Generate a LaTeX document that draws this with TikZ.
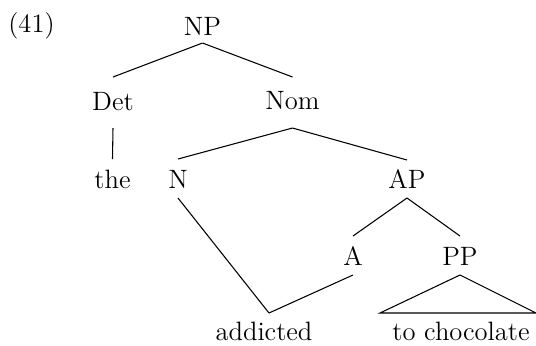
\documentclass[tikz,border=0pt]{standalone}
\usetikzlibrary{calc}
\begin{document}
\begin{tikzpicture}[x=0.422pt,y=-0.422pt,
  lab/.style={anchor=base,inner sep=0pt,font=\fontsize{11.2}{13}\selectfont},
  br/.style={line width=0.45pt}]
\useasboundingbox (0,0) rectangle (536,345);
\node[lab] (ex) at (31.5,32) {(41)};
\node[lab] (NP) at (202.5,35) {NP};
\node[lab] (Det) at (113,110) {Det};
\node[lab] (Nom) at (292.5,109) {Nom};
\node[lab] (the) at (112.5,188) {the};
\node[lab] (N) at (178,188) {N};
\node[lab] (AP) at (407,188) {AP};
\node[lab] (A) at (353,265) {A};
\node[lab] (PP) at (460,265) {PP};
\node[lab] (add) at (264,340) {addicted};
\node[lab] (toc) at (461,340) {to chocolate};
\draw[br] ($(NP.base)+(0,8)$) -- ($(Det.base)+(0,-33)$);
\draw[br] ($(NP.base)+(0,8)$) -- ($(Nom.base)+(0,-32)$);
\draw[br] ($(Det.base)+(0,18)$) -- ($(the.base)+(0,-29)$);
\draw[br] ($(Nom.base)+(0,19)$) -- ($(N.base)+(0,-29)$);
\draw[br] ($(Nom.base)+(0,19)$) -- ($(AP.base)+(0,-28)$);
\draw[br] ($(N.base)+(0,10)$) -- ($(add.base)+(5,-27)$);
\draw[br] ($(A.base)+(0,10)$) -- ($(add.base)+(5,-27)$);
\draw[br] ($(AP.base)+(0,10)$) -- ($(A.base)+(0,-29)$);
\draw[br] ($(AP.base)+(0,10)$) -- ($(PP.base)+(0,-29)$);
\draw[br,line join=miter] ($(PP.base)+(0,10)$) -- ($(toc.base)+(-81,-27)$) -- ($(toc.base)+(75,-27)$) -- cycle;
\end{tikzpicture}
\end{document}
